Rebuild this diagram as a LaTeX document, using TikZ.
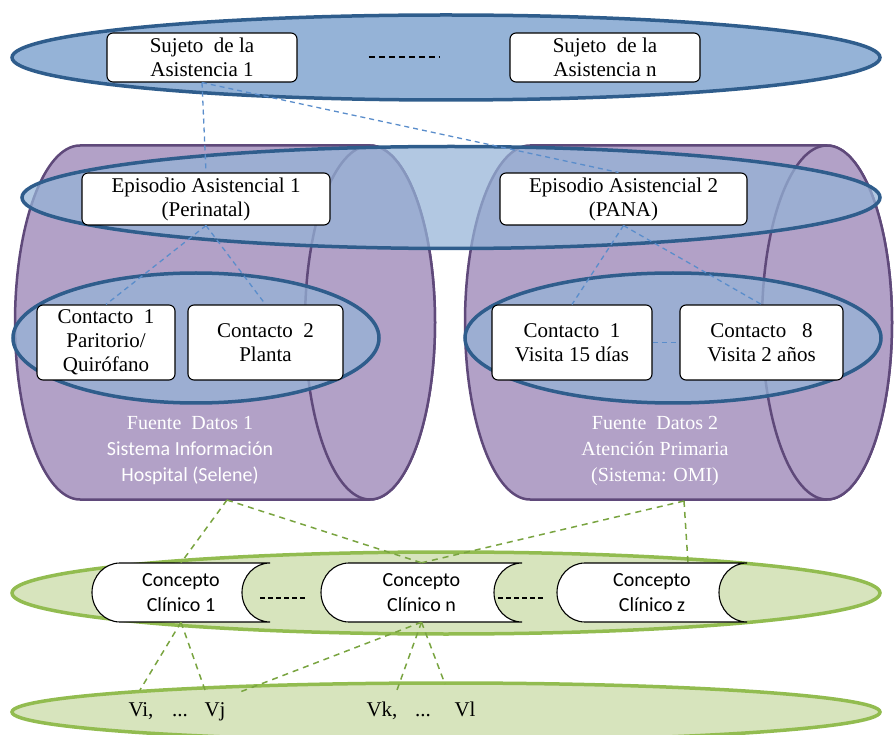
\documentclass[tikz,border=0pt]{standalone}
\usepackage{fontspec}
\setmainfont{Liberation Serif}
\newfontfamily\calib{Carlito}
\usetikzlibrary{calc}

\definecolor{subjfill}{HTML}{95B3D7}
\definecolor{subjline}{HTML}{2F5D8C}
\definecolor{srcfill}{HTML}{B2A1C7}
\definecolor{srcline}{HTML}{5F497A}
\definecolor{conceptfill}{HTML}{D7E4BD}
\definecolor{conceptline}{HTML}{92BC50}
\definecolor{bluedash}{HTML}{5A8DCB}
\definecolor{greendash}{HTML}{79A440}

\tikzset{
  subjlayer/.style={draw=subjline, fill=subjfill, line width=3.5pt},
  episodelayer/.style={draw=subjline, fill=subjfill, fill opacity=0.73, line width=3.5pt},
  srcshape/.style={draw=srcline, fill=srcfill, line width=2.5pt},
  conceptlayer/.style={draw=conceptline, fill=conceptfill, line width=3.5pt},
  infobox/.style={draw=black, fill=white, rounded corners=6pt, line width=1.1pt,
    inner sep=0pt, align=center, font=\fontsize{21}{24}\selectfont},
  conceptbox/.style={draw=black, fill=white, line width=1.1pt},
  concepttext/.style={inner sep=0pt, align=center, minimum height=59pt,
    font=\calib\fontsize{20}{25}\selectfont},
  srctext/.style={text=white, align=center, inner sep=0pt,
    font=\fontsize{20}{26}\selectfont},
  vartext/.style={inner sep=0pt, text height=14pt, text depth=5pt,
    font=\fontsize{21}{24}\selectfont},
  bluelink/.style={draw=bluedash, line width=1.3pt, dash pattern=on 5pt off 4pt},
  greenlink/.style={draw=greendash, line width=1.5pt, dash pattern=on 6pt off 5pt},
  blackdots/.style={draw=black, line width=1.4pt, dash pattern=on 6pt off 4pt},
}

\begin{document}
\begin{tikzpicture}[x=1pt, y=-1pt]
\clip (0,0) rectangle (895,735);

% subjects of care
\draw[subjlayer] (446,57.5) ellipse[x radius=434, y radius=42.5];

% data sources drawn as horizontal cans
\foreach \bx/\fx in {80/370, 530/827}{
  \draw[srcshape] (\bx,145.5) -- (\fx,145.5)
    arc[start angle=-90, end angle=90, x radius=65, y radius=177]
    -- (\bx,499.5)
    arc[start angle=90, end angle=270, x radius=65, y radius=177] -- cycle;
  \draw[srcshape] (\fx,322.5) ellipse[x radius=65, y radius=177];
}

% episodes and contacts
\draw[episodelayer] (451,197.5) ellipse[x radius=429, y radius=51];
\draw[episodelayer] (196,338) ellipse[x radius=183, y radius=65];
\draw[episodelayer] (673,338) ellipse[x radius=208, y radius=65];

% clinical concepts and variables
\draw[conceptlayer] (446,593) ellipse[x radius=434, y radius=41];
\draw[conceptlayer] (446,712) ellipse[x radius=434, y radius=29];

% boxes
\node[infobox, minimum width=190pt, minimum height=49pt] (s1) at (202,57.5) {Sujeto\ \ de la\\Asistencia 1};
\node[infobox, minimum width=190pt, minimum height=49pt] (sn) at (605,57.5) {Sujeto\ \ de la\\Asistencia n};

\node[infobox, minimum width=248pt, minimum height=52pt] (e1) at (206,199) {Episodio Asistencial 1\\(Perinatal)};
\node[infobox, minimum width=247pt, minimum height=52pt] (e2) at (623.5,199) {Episodio Asistencial 2\\(PANA)};

\node[infobox, minimum width=138pt, minimum height=75pt] (k1) at (106,342.5) {Contacto\ \ 1\\Paritorio/\\Quirófano};
\node[infobox, minimum width=155pt, minimum height=75pt] (k2) at (265.5,342.5) {Contacto\ \ 2\\Planta};
\node[infobox, minimum width=160pt, minimum height=75pt] (k3) at (572,342.5) {Contacto\ \ 1\\Visita 15 días};
\node[infobox, minimum width=163pt, minimum height=75pt] (k8) at (761.5,342.5) {Contacto\ \ \ 8\\Visita 2 años};

% source labels
\node[srctext] (f1) at (190,451) {Fuente\ \ Datos 1\\{\calib Sistema Información}\\{\calib Hospital (Selene)}};
\node[srctext] (f2) at (655,451) {Fuente\ \ Datos 2\\Atención Primaria\\(Sistema: OMI)};

% concept tabs: round on the left, hollowed on the right
\foreach \cx/\hw/\nm/\lbl in {181/89/c1/1, 421.5/100.5/cn/n, 652/95/cz/z}{
  \draw[conceptbox] (\cx-\hw+28,563) -- (\cx+\hw,563)
    arc[start angle=-90, end angle=-270, x radius=28, y radius=29.5]
    -- (\cx-\hw+28,622)
    arc[start angle=90, end angle=270, x radius=28, y radius=29.5] -- cycle;
  \node[concepttext, minimum width=2*\hw] (\nm) at (\cx,592.5) {Concepto\\Clínico \lbl};
}

% variables
\node[vartext] (vi) at (141,712) {Vi,};
\node[vartext] (vd1) at (180,712) {...};
\node[vartext] (vj) at (215,712) {Vj};
\node[vartext] (vk) at (382,712) {Vk,};
\node[vartext] (vd2) at (423,712) {...};
\node[vartext] (vl) at (465,712) {Vl};

% ellipsis marks between siblings
\draw[blackdots, line width=2pt] ([xshift=71pt]s1.east) -- ([xshift=-70pt]sn.west);
\draw[blackdots, line width=1.4pt, dash pattern=on 5pt off 3pt]
  ([shift={(-10,5.5)}]c1.east) -- ([shift={(-14,5.5)}]cn.west);
\draw[blackdots, line width=1.4pt, dash pattern=on 5pt off 3pt]
  ([shift={(-24,5.5)}]cn.east) -- ([shift={(-12,5.5)}]cz.west);

% subject -> episode -> contact links
\draw[bluelink] (s1.south) -- (e1.north);
\draw[bluelink] (s1.south) -- ([xshift=-5pt]e2.north);
\draw[bluelink] (e1.south) -- (k1.north);
\draw[bluelink] (e1.south) -- (k2.north);
\draw[bluelink] (e2.south) -- (k3.north);
\draw[bluelink] (e2.south) -- (k8.north);
\draw[bluelink] (k3.east) -- (k8.west);

% source -> concept -> variable links
\coordinate (src1) at (227,500);
\coordinate (src2) at (684,501);
\coordinate (b1) at (140,690);
\coordinate (b2) at (205,690);
\coordinate (b3) at (240,692);
\coordinate (b4) at (397,690);
\coordinate (b5) at (445,684);
\draw[greenlink] (src1) -- (c1.north);
\draw[greenlink] (src1) -- (cn.north);
\draw[greenlink] (src2) -- (cn.north);
\draw[greenlink] (src2) -- ([xshift=36pt]cz.north);
\draw[greenlink] (c1.south) -- (b1);
\draw[greenlink] (c1.south) -- (b2);
\draw[greenlink] (cn.south) -- (b3);
\draw[greenlink] (cn.south) -- (b4);
\draw[greenlink] (cn.south) -- (b5);
\end{tikzpicture}
\end{document}
